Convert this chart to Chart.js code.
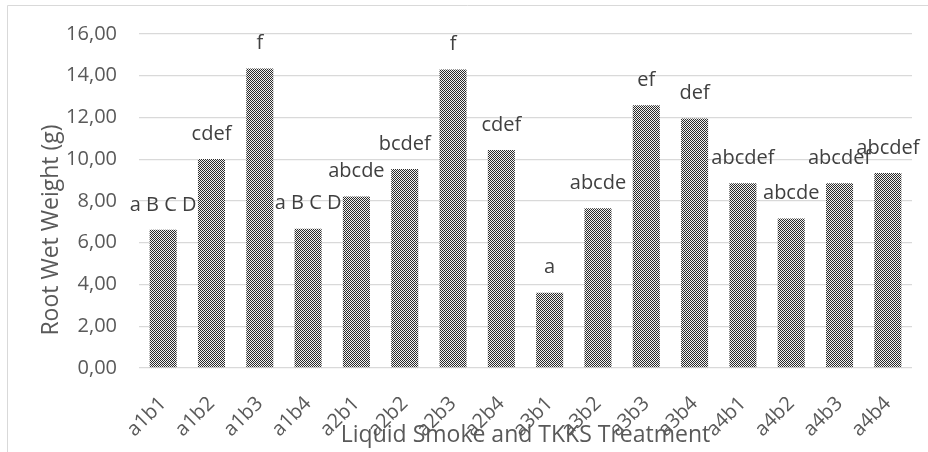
<!DOCTYPE html>
<html>
<head>
<meta charset="utf-8">
<script src="https://cdn.jsdelivr.net/npm/chart.js@4/dist/chart.umd.min.js"></script>
<style>
  html, body { margin: 0; padding: 0; background: #fff; }
  #wrap { width: 928px; height: 452px; position: relative; }
</style>
</head>
<body>
<div id="wrap"><canvas id="myChart" width="928" height="452"></canvas></div>
<script>
// treatment codes on the x axis
var treatments = ["a1b1", "a1b2", "a1b3", "a1b4", "a2b1", "a2b2", "a2b3", "a2b4",
                  "a3b1", "a3b2", "a3b3", "a3b4", "a4b1", "a4b2", "a4b3", "a4b4"];
// root wet weight (g)
var rootWeight = [6.62, 10.01, 14.35, 6.67, 8.22, 9.53, 14.30, 10.44,
                  3.61, 7.65, 12.59, 11.95, 8.85, 7.16, 8.85, 9.34];
// significance letters above each bar
var letters = ["a B C D", "cdef", "f", "a B C D", "abcde", "bcdef", "f", "cdef",
               "a", "abcde", "ef", "def", "abcdef", "abcde", "abcdef", "abcdef"];
var yTicks = [0, 2, 4, 6, 8, 10, 12, 14, 16];

var FONT = "'Open Sans', 'DejaVu Sans', sans-serif";

// checkered fill like the excel pattern
function makePattern() {
    var c = document.createElement("canvas");
    c.width = 2; c.height = 2;
    var x = c.getContext("2d");
    x.fillStyle = "#f2f2f2";
    x.fillRect(0, 0, 2, 2);
    x.fillStyle = "#2b2b2b";
    x.fillRect(0, 0, 1, 1);
    x.fillRect(1, 1, 1, 1);
    return x.createPattern(c, "repeat");
}

var extras = {
    id: "extras",
    beforeDraw: function (chart) {
        var ctx = chart.ctx;
        ctx.save();
        ctx.strokeStyle = "#d9d9d9";
        ctx.lineWidth = 1;
        ctx.beginPath();
        ctx.moveTo(7.5, 452);
        ctx.lineTo(7.5, 5.5);
        ctx.lineTo(928, 5.5);
        ctx.stroke();
        ctx.restore();
    },
    afterDatasetsDraw: function (chart) {
        var ctx = chart.ctx;
        var meta = chart.getDatasetMeta(0);
        ctx.save();
        ctx.font = "20px " + FONT;
        ctx.fillStyle = "#404040";
        ctx.textAlign = "center";
        ctx.textBaseline = "middle";
        meta.data.forEach(function (bar, i) {
            ctx.fillText(letters[i], bar.x, bar.y - 25);
        });
        // axis titles
        var area = chart.chartArea;
        ctx.fillStyle = "#595959";
        ctx.font = "23px " + FONT;
        ctx.fillText("Liquid Smoke and TKKS Treatment", (area.left + area.right) / 2, 435);
        ctx.translate(51, 230);
        ctx.rotate(-Math.PI / 2);
        ctx.fillText("Root Wet Weight (g)", 0, 0);
        ctx.restore();
    }
};

new Chart("myChart", {
    type: "bar",
    data: {
        labels: treatments,
        datasets: [{
            data: rootWeight,
            backgroundColor: makePattern(),
            borderWidth: 0,
            barPercentage: 0.56,
            categoryPercentage: 1
        }]
    },
    plugins: [extras],
    options: {
        responsive: false,
        animation: false,
        layout: { padding: { left: 0, top: 33, right: 16, bottom: 0 } },
        plugins: { legend: { display: false }, tooltip: { enabled: false } },
        scales: {
            x: {
                grid: { display: false },
                border: { display: false },
                ticks: {
                    autoSkip: false,
                    minRotation: 45,
                    maxRotation: 45,
                    padding: 16,
                    color: "#595959",
                    font: { family: FONT, size: 20 }
                },
                afterFit: function (s) { s.height = 84; }
            },
            y: {
                min: 0,
                max: 16,
                afterBuildTicks: function (s) {
                    s.ticks = yTicks.map(function (v) { return { value: v }; });
                },
                grid: { color: "#d9d9d9", lineWidth: 1.3, drawTicks: false },
                border: { display: false },
                ticks: {
                    padding: 22,
                    color: "#595959",
                    font: { family: FONT, size: 20 },
                    callback: function (v) { return v.toFixed(2).replace(".", ","); }
                },
                afterFit: function (s) { s.width = 139; }
            }
        }
    }
});
</script>
</body>
</html>
